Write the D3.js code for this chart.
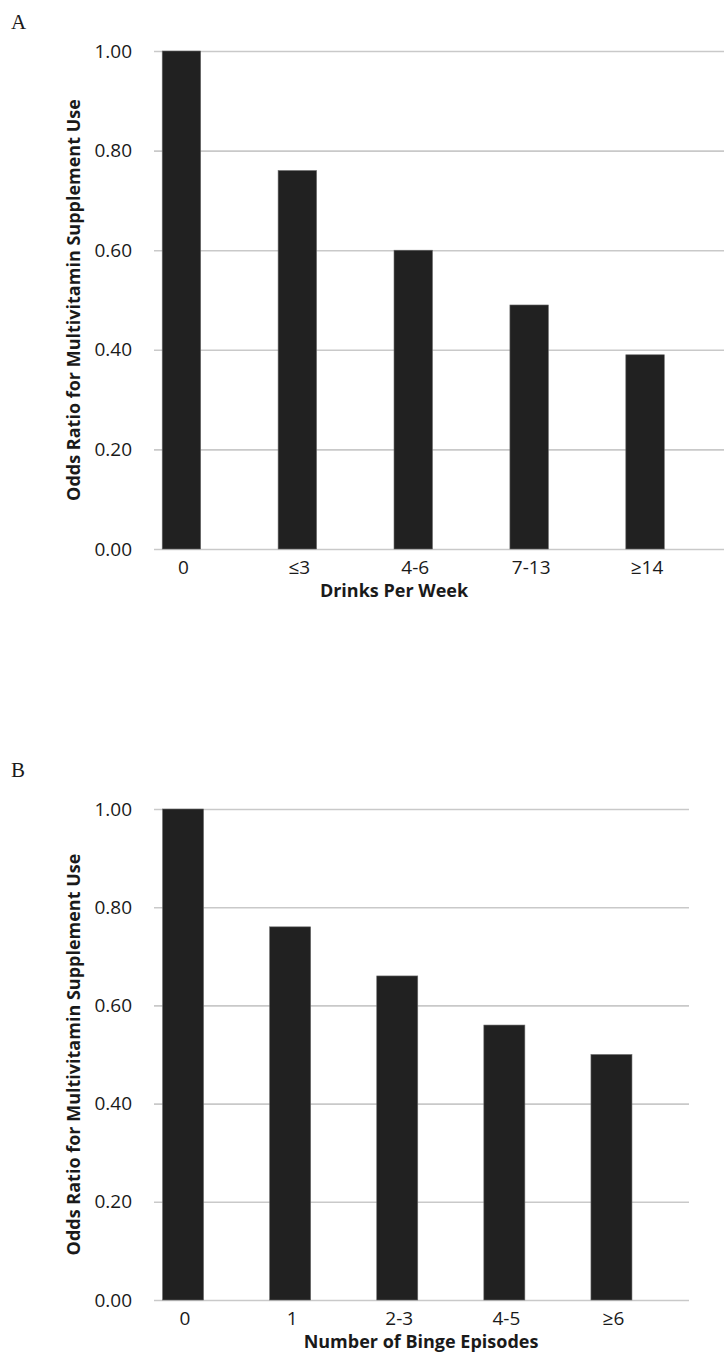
<!DOCTYPE html>
<html>
<head>
<meta charset="utf-8">
<script src="https://cdn.jsdelivr.net/npm/d3@7"></script>
<style>
  html, body { margin: 0; padding: 0; background: #fff; }
  svg { display: block; }
</style>
</head>
<body>
<svg id="chart" width="724" height="1357"></svg>
<script>
// ---- data ----
const categoriesA = ["0", "\u22643", "4-6", "7-13", "\u226514"];
const valuesA = [1.00, 0.76, 0.60, 0.49, 0.39];
const categoriesB = ["0", "1", "2-3", "4-5", "\u22656"];
const valuesB = [1.00, 0.76, 0.66, 0.56, 0.50];
const yTicks = [0, 0.2, 0.4, 0.6, 0.8, 1.0];
const yTitle = "Odds Ratio for Multivitamin Supplement Use";
const xTitleA = "Drinks Per Week";
const xTitleB = "Number of Binge Episodes";

const svg = d3.select("#chart");
const FONT = "'Open Sans', 'DejaVu Sans', sans-serif";
const BAR = "#212121";
const GRID = "#c9c9c9";

function panel(cfg) {
  const g = svg.append("g");
  const y = d3.scaleLinear().domain([0, 1]).range([cfg.y0, cfg.y1]);
  const x = d3.scaleBand().domain(cfg.cats).range(cfg.band)
    .paddingInner(cfg.pad).paddingOuter(cfg.pad / 2);

  // gridlines + y labels
  const ya = d3.axisLeft(y).tickValues(yTicks).tickFormat(d3.format(".2f"))
    .tickSize(-(cfg.gridR - cfg.gridL)).tickPadding(22);
  const yg = g.append("g").attr("transform", `translate(${cfg.gridL},0)`).call(ya);
  yg.select(".domain").remove();
  yg.selectAll(".tick line").attr("stroke", GRID).attr("stroke-width", 1.6);
  yg.selectAll(".tick text").attr("fill", "#1a1a1a")
    .style("font-family", FONT).style("font-size", "19px");

  // bars
  g.selectAll("rect.bar").data(cfg.vals).enter().append("rect")
    .attr("class", "bar")
    .attr("x", (d, i) => x(cfg.cats[i]))
    .attr("width", x.bandwidth())
    .attr("y", d => y(d))
    .attr("height", d => y(0) - y(d))
    .attr("fill", BAR)
    .attr("stroke", "#6a6a6a").attr("stroke-width", 0.6);

  // x axis labels
  const xa = d3.axisBottom(x).tickSize(0).tickPadding(12);
  const xg = g.append("g").attr("transform", `translate(2,${cfg.y0})`).call(xa);
  xg.select(".domain").remove();
  xg.selectAll(".tick text").attr("fill", "#1a1a1a")
    .style("font-family", FONT).style("font-size", "19px");

  // x title
  g.append("text").attr("x", cfg.xTitleX).attr("y", cfg.y0 + 48)
    .attr("text-anchor", "middle")
    .style("font-family", FONT).style("font-weight", "bold").style("font-size", "18px")
    .attr("fill", "#1a1a1a").text(cfg.xTitle);

  // y title
  g.append("text")
    .attr("transform", `translate(80,${(cfg.y0 + cfg.y1) / 2}) rotate(-90)`)
    .attr("text-anchor", "middle")
    .style("font-family", FONT).style("font-weight", "bold").style("font-size", "18px")
    .attr("fill", "#1a1a1a").text(yTitle);

  // panel letter
  g.append("text").attr("x", 11).attr("y", cfg.letterY)
    .style("font-family", "'Liberation Serif', 'Times New Roman', serif")
    .style("font-size", "21px").attr("fill", "#1a1a1a").text(cfg.letter);
}

panel({
  cats: categoriesA, vals: valuesA, y0: 549, y1: 51,
  band: [123.5, 703], pad: 0.668, gridL: 154, gridR: 724,
  xTitle: xTitleA, xTitleX: 394, letter: "A", letterY: 29
});
panel({
  cats: categoriesB, vals: valuesB, y0: 1300, y1: 809,
  band: [129.5, 665], pad: 0.617, gridL: 154, gridR: 689,
  xTitle: xTitleB, xTitleX: 421, letter: "B", letterY: 777
});
</script>
</body>
</html>
